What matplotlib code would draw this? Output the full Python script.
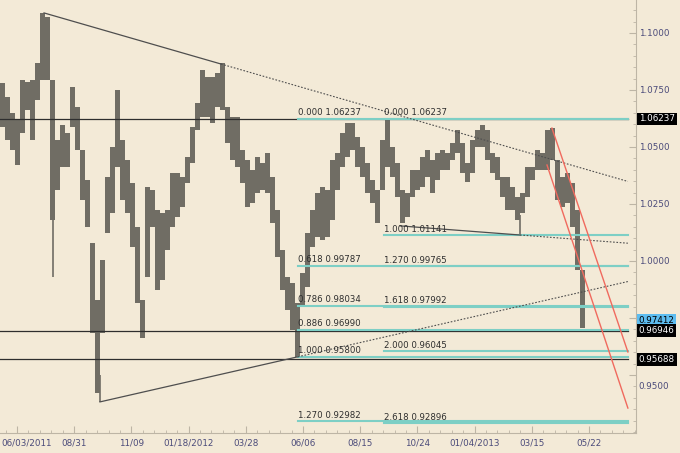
import matplotlib
matplotlib.use("Agg")
import matplotlib.pyplot as plt
import numpy as np

# price range, one high/low pair per ~4.4 trading days
# first pair starts 06/03/2011, last one ends with the 05/2013 drop
highs = [1.0781, 1.0719, 1.0649, 1.0618, 1.0794, 1.0785, 1.0794, 1.0868, 1.1088, 1.1070,
         1.0794, 1.0531, 1.0596, 1.0561, 1.0763, 1.0675, 1.0487, 1.0355, 1.0079, 0.9829,
         1.0004, 1.0368, 1.0500, 1.0750, 1.0531, 1.0443, 1.0342, 1.0149, 0.9829, 1.0325,
         1.0311, 1.0224, 1.0211, 1.0224, 1.0386, 1.0386, 1.0368, 1.0456, 1.0588, 1.0693,
         1.0838, 1.0807, 1.0807, 1.0825, 1.0868, 1.0675, 1.0632, 1.0632, 1.0487, 1.0443,
         1.0399, 1.0456, 1.0430, 1.0474, 1.0368, 1.0224, 1.0048, 0.9930, 0.9904, 0.9816,
         0.9947, 1.0123, 1.0224, 1.0298, 1.0325, 1.0311, 1.0443, 1.0474, 1.0561, 1.0605,
         1.0605, 1.0544, 1.0500, 1.0430, 1.0355, 1.0311, 1.0531, 1.0627, 1.0500, 1.0430,
         1.0311, 1.0298, 1.0399, 1.0399, 1.0456, 1.0487, 1.0443, 1.0474, 1.0487, 1.0474,
         1.0518, 1.0575, 1.0518, 1.0430, 1.0531, 1.0575, 1.0596, 1.0575, 1.0474, 1.0456,
         1.0368, 1.0368, 1.0325, 1.0281, 1.0298, 1.0412, 1.0412, 1.0487, 1.0474, 1.0575,
         1.0583, 1.0443, 1.0368, 1.0386, 1.0342, 1.0224, 0.9961]
lows = [1.0588, 1.0531, 1.0487, 1.0421, 1.0561, 1.0662, 1.0531, 1.0706, 1.0794, 1.0794,
        1.0180, 1.0311, 1.0412, 1.0412, 1.0588, 1.0487, 1.0268, 1.0149, 0.9684, 0.9421,
        0.9684, 1.0123, 1.0211, 1.0412, 1.0268, 1.0211, 1.0061, 0.9816, 0.9662, 0.9930,
        1.0149, 0.9873, 0.9917, 1.0048, 1.0149, 1.0193, 1.0237, 1.0342, 1.0430, 1.0575,
        1.0632, 1.0632, 1.0605, 1.0675, 1.0662, 1.0518, 1.0443, 1.0412, 1.0342, 1.0237,
        1.0254, 1.0298, 1.0311, 1.0298, 1.0167, 1.0018, 0.9873, 0.9785, 0.9697, 0.9579,
        0.9798, 0.9886, 1.0061, 1.0105, 1.0092, 1.0105, 1.0180, 1.0311, 1.0412, 1.0456,
        1.0487, 1.0412, 1.0368, 1.0298, 1.0254, 1.0167, 1.0311, 1.0412, 1.0368, 1.0281,
        1.0167, 1.0193, 1.0281, 1.0311, 1.0325, 1.0368, 1.0298, 1.0355, 1.0399, 1.0399,
        1.0443, 1.0474, 1.0386, 1.0346, 1.0386, 1.0500, 1.0500, 1.0443, 1.0386, 1.0355,
        1.0281, 1.0224, 1.0224, 1.0180, 1.0211, 1.0281, 1.0355, 1.0399, 1.0399, 1.0399,
        1.0443, 1.0268, 1.0237, 1.0254, 1.0149, 0.9961, 0.9706]

# single-day spikes (bar index, high, low)
spike_x = [45.5, 86.2, 453.7, 508.8]
spike_hi = [1.0180, 0.9500, 1.0200, 0.9829]
spike_lo = [0.9930, 0.9382, 1.0114, 0.9706]

# trendline anchors (bar index, price)
upper_tl = [(37.6, 1.1088), (192.3, 1.0864)]
lower_tl = [(86.5, 0.9382), (259.6, 0.9580)]
mid_tl = [(348.8, 1.0154), (453.7, 1.0114)]
red1 = [(481.6, 1.0583), (548, 0.9601)]
red2 = [(477.3, 1.0421), (548, 0.9355)]

fib_a = [("0.000", 1.06237), ("0.618", 0.99787), ("0.786", 0.98034),
         ("0.886", 0.96990), ("1.000", 0.95800), ("1.270", 0.92982)]
fib_b = [("0.000", 1.06237), ("1.000", 1.01141), ("1.270", 0.99765),
         ("1.618", 0.97992), ("2.000", 0.96045), ("2.618", 0.92896)]
hlines = [1.06237, 0.96946, 0.95688]

tick_pos = [64, 114, 164, 214, 264, 314, 364, 414, 464, 514]
tick_lab = ["08/31", "11/09", "01/18/2012", "03/28", "06/06", "08/15",
            "10/24", "01/04/2013", "03/15", "05/22"]
first_date = "06/03/2011"

STEP = 4.37
END = 548
bg = "#F3EAD7"
txtcol = "#4B4B7A"
fibcol = "#7DCFC5"
barcol = "#706D64"

fig = plt.figure(figsize=(6.8, 4.53), dpi=100, facecolor=bg)
ax = fig.add_axes([0, 20 / 453, 636 / 680, 433 / 453], facecolor=bg)

x = 1.31 + STEP * np.arange(len(highs))
h = np.array(highs)
l = np.array(lows)
ax.bar(x, h - l, bottom=l, width=STEP, color=barcol, linewidth=0, zorder=2)
ax.vlines(spike_x, spike_lo, spike_hi, color=barcol, lw=1.2, zorder=2)

for y in hlines:
    ax.plot([-1, END], [y, y], color="#2E2E2E", lw=0.9, zorder=3)

def line_ext(pts, col, lw, ls_ext=None):
    (x0, y0), (x1, y1) = pts
    ax.plot([x0, x1], [y0, y1], color=col, lw=lw, zorder=4)
    if ls_ext is not None:
        k = (y1 - y0) / (x1 - x0)
        ax.plot([x1, END], [y1, y1 + k * (END - x1)], color=col, lw=0.8,
                ls=ls_ext, zorder=4)

dots = (0, (1.5, 1.5))
line_ext(upper_tl, "#4E4E4E", 0.9, dots)
line_ext(lower_tl, "#4E4E4E", 0.9, dots)
line_ext(mid_tl, "#4E4E4E", 0.9, dots)
line_ext(red1, "#F06A5E", 1.0)
line_ext(red2, "#F06A5E", 1.0)

for start, levels in [(259.6, fib_a), (335.2, fib_b)]:
    for name, val in levels:
        ax.plot([start, END], [val, val], color=fibcol, lw=1.5, zorder=3)
        ax.annotate(name + " " + "%.5f" % val, xy=(start, val), xytext=(0, 1),
                    textcoords="offset points", ha="left", va="bottom",
                    fontsize=6.2, color="#2E2E2E", zorder=5)

ax.set_xlim(-0.87, 555.1)
ax.set_ylim(0.92456, 1.11447)

# axes
for s in ["top", "left"]:
    ax.spines[s].set_visible(False)
for s in ["right", "bottom"]:
    ax.spines[s].set_color("#BDB5A5")
ax.yaxis.tick_right()
ax.set_xticks([14] + tick_pos)
ax.set_xticklabels([""] + tick_lab)
ax.set_xticks(np.arange(4, 555, 10), minor=True)
yt = [0.95, 0.975, 1.0, 1.025, 1.05, 1.075, 1.1]
ax.set_yticks(yt)
ax.set_yticklabels(["", "", "1.0000", "1.0250", "1.0500", "1.0750", "1.1000"])
ax.set_yticks(np.arange(0.925, 1.115, 0.005), minor=True)
ax.tick_params(which="both", direction="in", colors="#BDB5A5", labelcolor=txtcol,
               labelsize=6.3)
ax.tick_params(axis="x", which="major", length=5, pad=4)
ax.tick_params(axis="x", which="minor", length=2.5)
ax.tick_params(axis="y", which="major", length=5, pad=2)
ax.tick_params(axis="y", which="minor", length=2.5)

ax.annotate(first_date, xy=(0, 0), xycoords="axes fraction", xytext=(1, -4),
            textcoords="offset points", ha="left", va="top", fontsize=6.3,
            color=txtcol, annotation_clip=False)
ax.annotate("0.9500", xy=(1, 0.95), xycoords=("axes fraction", "data"),
            xytext=(2, -8), textcoords="offset points", ha="left", va="center",
            fontsize=6.3, color=txtcol, annotation_clip=False)

# price boxes on the right
boxes = [("1.06237", 1.06237, "black", "white"),
         ("0.97412", 0.97412, "#5DBDF0", "black"),
         ("0.96946", 0.96946, "black", "white"),
         ("0.95688", 0.95688, "black", "white")]
for t, v, fc, tc in boxes:
    ax.annotate(t, xy=(1, v), xycoords=("axes fraction", "data"), xytext=(2, 0),
                textcoords="offset points", ha="left", va="center", fontsize=6.3,
                color=tc, annotation_clip=False,
                bbox=dict(boxstyle="square,pad=0.2", fc=fc, ec="none"))

fig.savefig("out.png", dpi=100, facecolor=bg)
